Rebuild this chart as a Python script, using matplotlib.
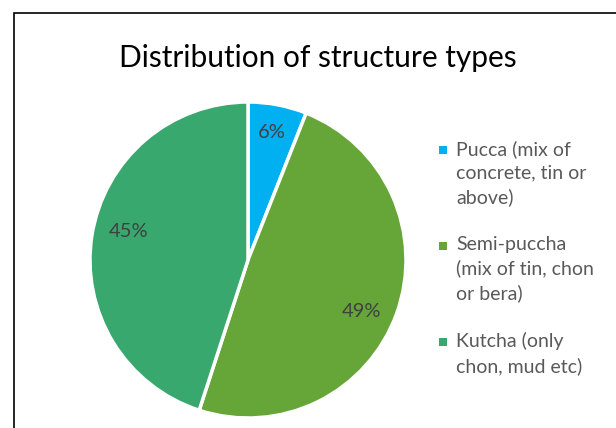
import numpy as np
import matplotlib
matplotlib.use("Agg")
import matplotlib.pyplot as plt
from matplotlib.patches import Rectangle

TITLE = "Distribution of structure types"
LABELS = ["Pucca (mix of\nconcrete, tin or\nabove)",
          "Semi-puccha\n(mix of tin, chon\nor bera)",
          "Kutcha (only\nchon, mud etc)"]
SHARES = [6, 49, 45]
COLORS = ["#00B0F0", "#66A537", "#38A86E"]

W, H = 616, 428
FONT = ["Lato", "DejaVu Sans"]
# excel's label placement differs a little from the wedge middle
LABEL_SHIFT = [0, -4.5, -4.5]  # degrees
LABEL_DIST = [0.82, 0.79, 0.78]


def main():
    fig = plt.figure(figsize=(W / 100, H / 100), dpi=100)
    fig.patch.set_facecolor("white")

    # chart frame, runs off the right and bottom edges
    fig.add_artist(Rectangle((13.5 / W, -0.1), 1.0, 1 - 13.5 / H + 0.1,
                             transform=fig.transFigure, fill=False,
                             edgecolor="black", linewidth=1.2))

    fig.text(318 / W, 1 - 58 / H, TITLE, ha="center", va="center",
             fontsize=21.5, family=FONT, color="black")

    cx, cy, r = 248, 260, 158
    ax = fig.add_axes([(cx - r) / W, 1 - (cy + r) / H, 2 * r / W, 2 * r / H])
    wedges, _, autotexts = ax.pie(
        SHARES, colors=COLORS, startangle=90, counterclock=False,
        autopct="%d%%", pctdistance=0.8,
        wedgeprops=dict(edgecolor="white", linewidth=2.5),
        textprops=dict(fontsize=14.5, color="#404040", family=FONT))
    for w, t, s, d in zip(wedges, autotexts, LABEL_SHIFT, LABEL_DIST):
        ang = np.deg2rad((w.theta1 + w.theta2) / 2 + s)
        t.set_position((d * np.cos(ang), d * np.sin(ang)))
    ax.set_xlim(-1, 1)
    ax.set_ylim(-1, 1)
    ax.set_aspect("equal")
    ax.axis("off")

    # legend: square marker beside the first line of each entry
    y = 150
    for lab, col in zip(LABELS, COLORS):
        fig.add_artist(Rectangle((439 / W, 1 - (y + 4) / H), 8 / W, 8 / H,
                                 transform=fig.transFigure, facecolor=col,
                                 edgecolor="none"))
        fig.text(456 / W, 1 - (y - 10) / H, lab, ha="left", va="top",
                 fontsize=14, family=FONT, color="#595959", linespacing=1.45)
        y += 24 * (lab.count("\n") + 1) + 24

    plt.savefig("out.png", dpi=100)


if __name__ == '__main__':
    main()
